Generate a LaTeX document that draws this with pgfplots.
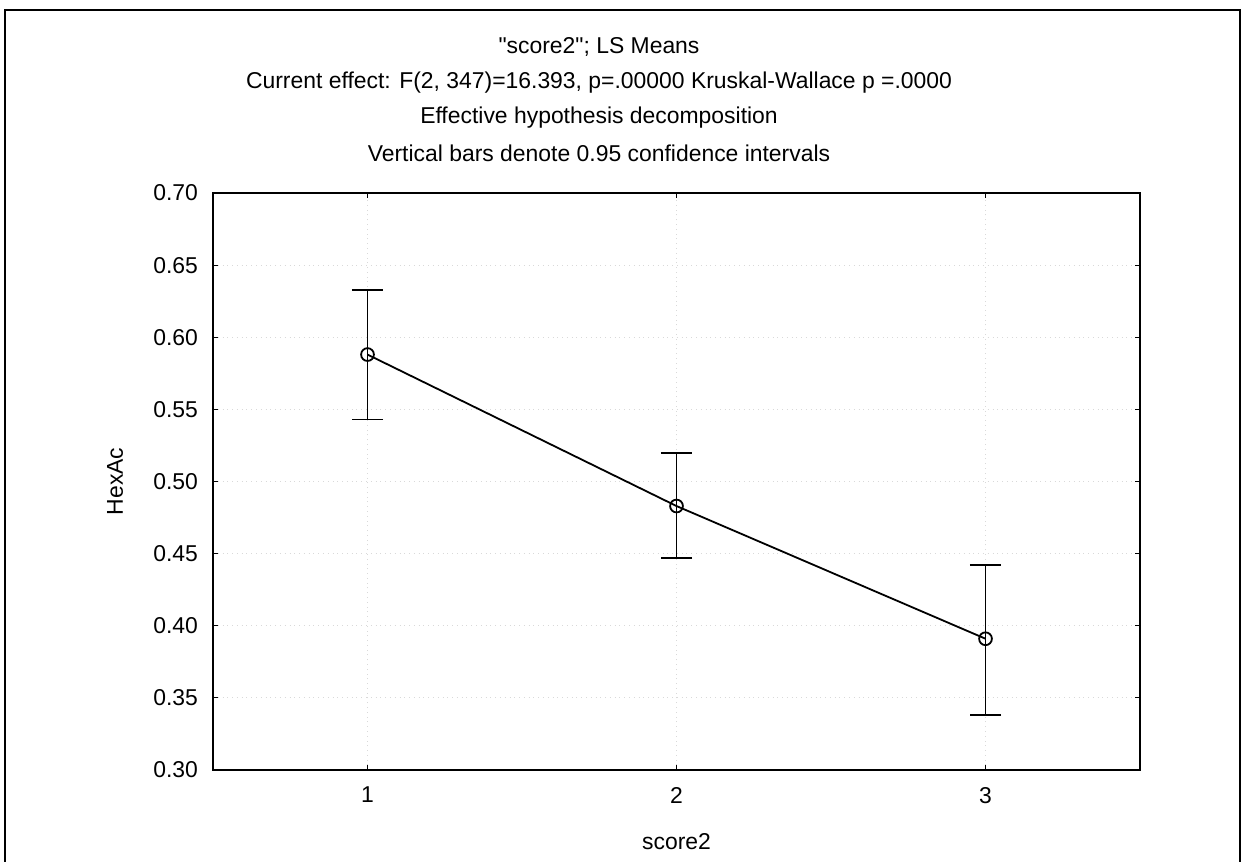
\documentclass[border=0pt]{standalone}
\usepackage{pgfplots}
\pgfplotsset{compat=1.18}
\usepackage{fontspec}
\setmainfont{Liberation Sans}[Ligatures=TeXOff]
\begin{document}
\begin{tikzpicture}[x=1bp,y=1bp]
\path[use as bounding box] (0,0) rectangle (622,430.5);
\draw[line width=0.9bp] (2.5,-5) -- (2.5,425.5) -- (620,425.5) -- (620,-5);
\begin{axis}[
  at={(106.5bp,45.5bp)}, anchor=south west,
  scale only axis, width=463.5bp, height=288.5bp,
  xmin=0.5, xmax=3.5, ymin=0.30, ymax=0.70,
  xtick={1,2,3}, ytick={0.30,0.35,...,0.70},
  y tick label style={/pgf/number format/fixed, /pgf/number format/fixed zerofill, /pgf/number format/precision=2, xshift=-4bp},
  /pgf/number format/assume math mode=true,
  tick label style={font=\fontsize{11.5}{13}\selectfont},
  label style={font=\fontsize{11.5}{13}\selectfont},
  xlabel={score2}, ylabel={HexAc},
  xlabel style={at={(axis description cs:0.5,0)}, anchor=center, yshift=-36bp},
  ylabel style={at={(axis description cs:-0.1057,0.5)}, anchor=center},
  x tick label style={yshift=-5bp},
  tick align=inside, major tick length=2.5bp,
  tick style={black, line width=0.6bp},
  axis line style={line width=1bp},
  grid=major,
  major grid style={gray!30, dotted, line width=0.6bp},
]
\addplot[black, line width=0.9bp, mark=o, mark size=3.2bp,
  mark options={fill=white, line width=0.9bp},
  error bars/.cd, y dir=both, y explicit,
  error mark options={rotate=90, mark size=7.8bp, line width=0.9bp},
  error bar style={line width=0.9bp}]
  table[x=x, y=y, y error plus=ep, y error minus=em] {
x y ep em
1 0.588 0.045 0.045
2 0.483 0.037 0.036
3 0.391 0.051 0.053
};
\end{axis}
\begin{scope}[font=\fontsize{11.5}{13}\selectfont]
\node at (299.5,407) {"score2"; LS Means};
\node at (299.5,389) {Current effect: F(2, 347)=16.393, p=.00000 Kruskal-Wallace p =.0000};
\node at (299.5,371.5) {Effective hypothesis decomposition};
\node at (299.5,354) {Vertical bars denote 0.95 confidence intervals};
\end{scope}
\end{tikzpicture}
\end{document}
